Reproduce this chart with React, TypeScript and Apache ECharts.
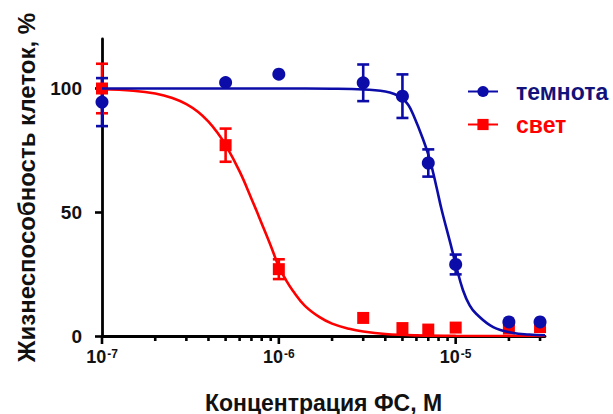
import React, { useEffect, useRef } from 'react';
import * as echarts from 'echarts';

// Measured points (concentration, M)
const concentrations = [1e-7, 5e-7, 1e-6, 3e-6, 5e-6, 7e-6, 1e-5, 2e-5, 3e-5];
const darkMean = [94.5, 102.4, 105.8, 102.3, 96.9, 69.9, 28.9, 5.7, 5.7];
const darkErr = [9.7, 0, 0, 7.4, 8.8, 5.5, 4.0, 0, 0];
const lightMean = [100, 77.1, 27.0, 7.3, 3.2, 2.6, 3.4, 3.0, 3.6];
const lightErr = [10, 6.7, 4.0, 0, 0, 0, 0, 0, 0];

// Fitted curves
const darkFitX = [1e-7, 5e-7, 1e-6, 2e-6, 3e-6, 4e-6, 4.5e-6, 5e-6, 5.4e-6, 5.75e-6, 6.5e-6, 7.16e-6, 7.8e-6, 8.33e-6, 9.33e-6, 1e-5, 1.1e-5, 1.2e-5, 1.31e-5, 1.63e-5, 2.12e-5, 2.6e-5, 3.2e-5];
const darkFitY = [100, 100, 100, 99.9, 99.6, 98.8, 97.8, 96, 93.3, 89.5, 80, 71, 60, 51, 37.5, 29, 18.5, 12.4, 8.9, 3.6, 1.2, 0.6, 0.3];
const lightFitX = [1e-7, 1.5e-7, 2e-7, 2.5e-7, 3e-7, 3.5e-7, 4e-7, 4.5e-7, 5e-7, 6e-7, 7e-7, 8e-7, 9e-7, 1e-6, 1.1e-6, 1.2e-6, 1.4e-6, 1.7e-6, 2e-6, 2.5e-6, 3e-6, 4e-6, 6e-6, 1e-5, 3.2e-5];
const lightFitY = [99.7, 99.1, 98.0, 96.2, 93.7, 90.5, 86.6, 82.1, 77.2, 66.5, 55.5, 45.5, 36.5, 28, 22.5, 18.3, 12.3, 7.6, 5.0, 2.9, 1.8, 0.8, 0.25, 0.05, 0];

// Axis ticks
const xMajorTicks = [1e-7, 1e-6, 1e-5];
const xMinorTicks = [2e-7, 3e-7, 4e-7, 5e-7, 6e-7, 7e-7, 8e-7, 9e-7, 2e-6, 3e-6, 4e-6, 5e-6, 6e-6, 7e-6, 8e-6, 9e-6, 2e-5, 3e-5];
const yTicks = [0, 50, 100];

const seriesNames = ['темнота', 'свет'];

const BLUE = '#0C0CA8';
const BLUE_TEXT = '#12127A';
const RED = '#FF0000';
const FONT = '"Liberation Sans", Arial, Helvetica, sans-serif';

function errorBarSeries(name: string, xs: number[], ys: number[], es: number[], color: string) {
  const data = xs.map((x, i) => [x, ys[i], es[i]]).filter((d) => d[2] > 0);
  return {
    type: 'custom',
    name,
    silent: true,
    data,
    renderItem: (_params: any, api: any) => {
      const x = api.value(0);
      const y = api.value(1);
      const e = api.value(2);
      const top = api.coord([x, y + e]);
      const bot = api.coord([x, y - e]);
      const hw = 6;
      const st = { stroke: color, lineWidth: 2.6 };
      return {
        type: 'group',
        children: [
          { type: 'line', shape: { x1: top[0], y1: top[1], x2: bot[0], y2: bot[1] }, style: st },
          { type: 'line', shape: { x1: top[0] - hw, y1: top[1], x2: top[0] + hw, y2: top[1] }, style: st },
          { type: 'line', shape: { x1: bot[0] - hw, y1: bot[1], x2: bot[0] + hw, y2: bot[1] }, style: st },
        ],
      };
    },
  };
}

function tickSeries(values: number[], len: number) {
  return {
    type: 'custom',
    silent: true,
    data: values.map((v) => [v, 0]),
    z: 3,
    renderItem: (_params: any, api: any) => {
      const p = api.coord([api.value(0), api.value(1)]);
      return {
        type: 'line',
        shape: { x1: p[0], y1: p[1], x2: p[0], y2: p[1] + len },
        style: { stroke: '#000', lineWidth: 2.6 },
      };
    },
  };
}

export default function App() {
  const ref = useRef<HTMLDivElement>(null);
  useEffect(() => {
    document.body.style.margin = '0';
    const chart = echarts.init(ref.current!, null, { renderer: 'svg' });
    const option: any = {
      animation: false,
      backgroundColor: '#fff',
      grid: { left: 102, right: 68, top: 39, bottom: 78, containLabel: false, outerBoundsMode: 'none' },
      legend: {
        orient: 'vertical',
        left: 467,
        top: 80,
        padding: 0,
        itemWidth: 30,
        itemHeight: 14,
        itemGap: 10,
        selectedMode: false,
        data: [
          { name: seriesNames[0], textStyle: { color: BLUE_TEXT } },
          { name: seriesNames[1], textStyle: { color: RED } },
        ],
        textStyle: { fontSize: 23, fontWeight: 'bold', fontFamily: FONT, padding: [0, 0, 0, 13] },
      },
      xAxis: {
        type: 'log',
        logBase: 10,
        min: 1e-7,
        max: 3.2e-5,
        name: 'Концентрация ФС, М',
        nameLocation: 'middle',
        nameGap: 55,
        nameTextStyle: { fontSize: 23, fontWeight: 'bold', color: '#111', fontFamily: FONT },
        axisLine: { lineStyle: { color: '#000', width: 2.8 } },
        axisTick: { show: false },
        minorTick: { show: false },
        splitLine: { show: false },
        axisLabel: {
          margin: 12,
          formatter: (v: number) => {
            const e = Math.log10(v);
            const r = Math.round(e);
            if (Math.abs(e - r) > 1e-6) return '';
            return '{b|10}{s|' + r + '}';
          },
          rich: {
            b: { fontSize: 18, fontWeight: 'bold', color: '#111', fontFamily: FONT },
            s: { fontSize: 12, fontWeight: 'bold', color: '#111', fontFamily: FONT, verticalAlign: 'top', padding: [0, 0, 6, 1] },
          },
        },
      },
      yAxis: {
        type: 'value',
        min: 0,
        max: 120,
        interval: 50,
        name: 'Жизнеспособность клеток, %',
        nameLocation: 'middle',
        nameGap: 64,
        nameRotate: 90,
        nameTextStyle: { fontSize: 24, fontWeight: 'bold', color: '#111', fontFamily: FONT },
        axisLine: { show: true, lineStyle: { color: '#000', width: 2.8 } },
        axisTick: { show: true, length: 7, lineStyle: { width: 2.6, color: '#000' }, customValues: yTicks },
        splitLine: { show: false },
        axisLabel: {
          customValues: yTicks,
          margin: 20,
          fontSize: 19,
          fontWeight: 'bold',
          color: '#111',
          fontFamily: FONT,
          formatter: (v: number) => (yTicks.indexOf(v) >= 0 ? String(v) : ''),
        },
      },
      series: [
        tickSeries(xMajorTicks, 8),
        tickSeries(xMinorTicks, 5),
        {
          type: 'line',
          name: seriesNames[1],
          data: lightFitX.map((x, i) => [x, lightFitY[i]]),
          smooth: 0.4,
          showSymbol: false,
          symbol: 'rect',
          symbolSize: 12,
          silent: true,
          lineStyle: { color: RED, width: 2.6 },
          itemStyle: { color: RED },
        },
        errorBarSeries(seriesNames[1], concentrations, lightMean, lightErr, RED),
        {
          type: 'scatter',
          name: seriesNames[1],
          data: concentrations.map((x, i) => [x, lightMean[i]]),
          symbol: 'rect',
          symbolSize: 12,
          silent: true,
          itemStyle: { color: RED, opacity: 1 },
        },
        {
          type: 'line',
          name: seriesNames[0],
          data: darkFitX.map((x, i) => [x, darkFitY[i]]),
          smooth: 0.4,
          showSymbol: false,
          symbol: 'circle',
          symbolSize: 12,
          silent: true,
          lineStyle: { color: BLUE, width: 2.6 },
          itemStyle: { color: BLUE },
        },
        errorBarSeries(seriesNames[0], concentrations, darkMean, darkErr, BLUE),
        {
          type: 'scatter',
          name: seriesNames[0],
          data: concentrations.map((x, i) => [x, darkMean[i]]),
          symbol: 'circle',
          symbolSize: 13,
          silent: true,
          itemStyle: { color: BLUE, opacity: 1 },
        },
      ],
    };
    chart.setOption(option);
    return () => chart.dispose();
  }, []);
  return <div ref={ref} style={{ position: 'fixed', left: 0, top: 0, width: 613, height: 414 }} />;
}
